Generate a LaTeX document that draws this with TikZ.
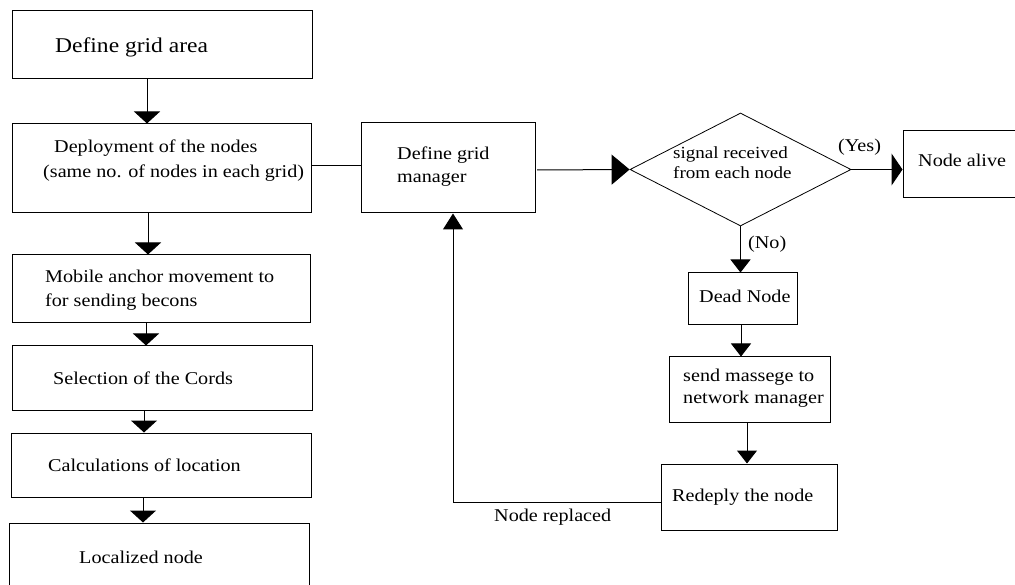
\documentclass[tikz,border=0pt]{standalone}
\usepackage{fontspec}
\setmainfont{Liberation Serif}[FakeStretch=1.12]
\usetikzlibrary{arrows.meta,shapes.geometric}
\tikzset{
  box/.style={draw, line width=1pt, inner sep=0pt, minimum width=#1},
  txt/.style={inner sep=0pt, anchor=west, align=left, font=\fontsize{18}{25}\selectfont},
  conn/.style={line width=1pt},
  arrD/.style={line width=1pt, -{Triangle[width=26pt,length=12pt]}},
  arrS/.style={line width=1pt, -{Triangle[width=20pt,length=13pt]}},
  arrR/.style={line width=1pt, -{Triangle[width=30pt,length=18pt]}},
  arrY/.style={line width=1pt, -{Triangle[width=32pt,length=11pt]}},
}
\begin{document}
\begin{tikzpicture}[x=1pt,y=-1pt]
\useasboundingbox (0,0) rectangle (1015,585);
\clip (0,0) rectangle (1015,585);
% left column boxes
\node[box=300pt, minimum height=68pt] (b1) at (162,45) {};
\node[box=299pt, minimum height=89pt] (b2) at (161.5,168.5) {};
\node[box=298pt, minimum height=68pt] (b3) at (161,289) {};
\node[box=300pt, minimum height=64pt] (b4) at (162,378) {};
\node[box=300pt, minimum height=64pt] (b5) at (161,465) {};
\node[box=300pt, minimum height=77pt] (b6) at (159,561.5) {};
% middle / right
\node[box=174pt, minimum height=90pt] (gm) at (448,168) {};
\node[draw, line width=0.8pt, shape=diamond, inner sep=0pt, minimum width=221pt, minimum height=113pt] (dia) at (740.5,169.5) {};
\node[box=117pt, minimum height=67pt] (alive) at (961.5,164.5) {};
\node[box=109pt, minimum height=52pt] (dead) at (742.5,299) {};
\node[box=161pt, minimum height=65pt] (send) at (749.5,389.5) {};
\node[box=176pt, minimum height=66pt] (redep) at (749,497) {};
% texts
\node[txt, font=\fontsize{21}{25}\selectfont] (t1) at (55,47) {Define grid area};
\node[txt] (t2) at (43,160.5) {\hspace*{11pt}Deployment of the nodes\\(same no. of nodes in each grid)};
\node[txt, font=\fontsize{18}{24}\selectfont] (t3) at (45,290) {Mobile anchor movement to\\for sending becons};
\node[txt] (t4) at (53,378) {Selection of the Cords};
\node[txt] (t5) at (48,465) {Calculations of location};
\node[txt] (t6) at (79,557) {Localized node};
\node[txt, font=\fontsize{18}{23}\selectfont] (tgm) at (397,166.5) {Define grid\\manager};
\node[txt, font=\fontsize{17}{20}\selectfont] (tdia) at (673,163) {signal received\\from each node};
\node[txt] (talive) at (918,160) {Node alive};
\node[txt] (tdead) at (699,296) {Dead Node};
\node[txt, font=\fontsize{18}{22}\selectfont] (tsend) at (683,388) {send massege to\\network manager};
\node[txt] (tred) at (672,497) {Redeply the node};
\node[txt] (tyes) at (838,147) {(Yes)};
\node[txt] (tno) at (748,244) {(No)};
\node[txt] (trep) at (494,517) {Node replaced};
% connectors left column
\draw[arrD] (b1.south -| 147,0) -- (b2.north -| 147,0);
\draw[arrD] (b2.south -| 148,0) -- (b3.north -| 148,0);
\draw[arrD] (b3.south -| 146,0) -- (b4.north -| 146,0);
\draw[arrD] (b4.south -| 144,0) -- (b5.north -| 144,0);
\draw[arrD] (b5.south -| 143,0) -- (b6.north -| 143,0);
\draw[conn] (b2.east |- 0,166) -- (gm.west |- 0,166);
% right part
\draw[arrR] (537,170) -- (dia.west);
\draw[arrY] (dia.east) -- (alive.west |- dia.east);
\draw[arrS] (dia.south) -- (dead.north -| dia.south);
\draw[arrS] (dead.south -| 741,0) -- (send.north -| 741,0);
\draw[arrS] (send.south -| 747,0) -- (redep.north -| 747,0);
\coordinate (corner) at (453,502);
\draw[line width=1pt, -{Triangle[width=20pt,length=16pt]}] (redep.west |- corner) -- (corner) -- (gm.south -| corner);
\end{tikzpicture}
\end{document}
